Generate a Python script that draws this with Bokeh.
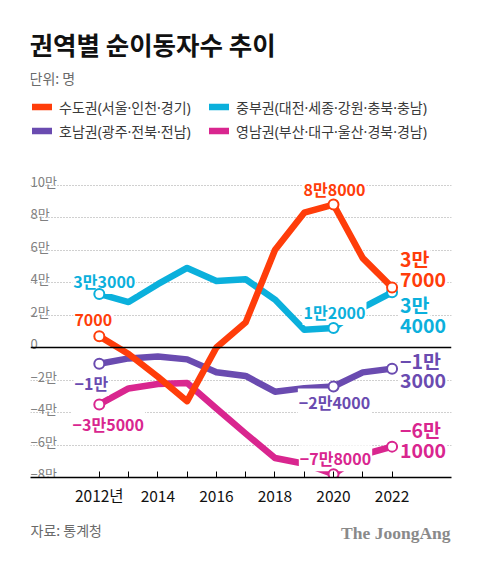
from bokeh.plotting import figure
from bokeh.layouts import column
from bokeh.models import Range1d, FixedTicker, Span, Label, Legend, LegendItem, ColumnDataSource
from bokeh.core.properties import value
from bokeh.embed import file_html
from bokeh.resources import INLINE

# ---------------- data (persons) ----------------
years = [2012, 2013, 2014, 2015, 2016, 2017, 2018, 2019, 2020, 2021, 2022]
sudo = [7000, -4000, -18000, -33000, 0, 15500, 60000, 83000, 88000, 55000, 37000]
jungbu = [33000, 28000, 39000, 49000, 41000, 42000, 29500, 11000, 12000, 24500, 34000]
honam = [-10000, -6700, -5500, -7300, -15200, -17500, -27200, -25000, -24000, -15300, -13000]
yeongnam = [-35000, -25200, -22500, -21800, -37500, -53000, -68000, -71500, -78000, -66000, -61000]

series_names = ["수도권(서울·인천·경기)", "중부권(대전·세종·강원·충북·충남)",
                "호남권(광주·전북·전남)", "영남권(부산·대구·울산·경북·경남)"]

y_ticks = [100000, 80000, 60000, 40000, 20000, 0, -20000, -40000, -60000, -80000]
y_tick_labels = ["10만", "8만", "6만", "4만", "2만", "0", "−2만", "−4만", "−6만", "−8만"]
x_tick_labels = ["2012년", "", "2014", "", "2016", "", "2018", "", "2020", "", "2022"]

marked_idx = [0, 8, 10]
sudo_labels = ["7000", "8만8000", ("3만", "7000")]
jungbu_labels = ["3만3000", "1만2000", ("3만", "4000")]
honam_labels = ["−1만", "−2만4000", ("−1만", "3000")]
yeongnam_labels = ["−3만5000", "−7만8000", ("−6만", "1000")]

title_text = "권역별 순이동자수 추이"
unit_text = "단위: 명"
source_text = "자료: 통계청"
logo_text = "The JoongAng"

# ---------------- style ----------------
C_SUDO = "#ff3d0a"
C_JUNG = "#0bb0dc"
C_HONAM = "#6a4bb0"
C_YEONG = "#d9268f"
KFONT = "Noto Sans CJK KR"
MIXFONT = "Noto Sans, Noto Sans CJK KR"

# main chart: frame spans from the canvas top down to the x axis
p = figure(width=480, height=508, output_backend="svg", toolbar_location=None,
           x_range=Range1d(2009.65, 2024.03), y_range=Range1d(-80000, 213600),
           y_axis_location=None, title=None,
           min_border_left=30, min_border_right=29, min_border_top=0, min_border_bottom=30)
p.outline_line_color = None
p.background_fill_color = "white"
p.border_fill_color = "white"

p.xgrid.visible = False
p.ygrid.ticker = FixedTicker(ticks=[t for t in y_ticks if t not in (0, -80000)])
p.ygrid.grid_line_color = "#a0a0a0"
p.ygrid.grid_line_dash = "1 2"
p.ygrid.grid_line_width = 1

p.xaxis.ticker = FixedTicker(ticks=years)
p.xaxis.major_label_overrides = {y: l for y, l in zip(years, x_tick_labels)}
p.xaxis.axis_line_color = "black"
p.xaxis.axis_line_width = 1.5
p.xaxis.major_tick_in = 6
p.xaxis.major_tick_out = 0
p.xaxis.major_tick_line_color = "black"
p.xaxis.major_tick_line_width = 1
p.xaxis.minor_tick_line_color = None
p.xaxis.major_label_standoff = 6
p.xaxis.major_label_text_font = KFONT
p.xaxis.major_label_text_font_size = "15.5px"
p.xaxis.major_label_text_color = "#111111"

p.add_layout(Span(location=0, dimension="width", line_color="black", line_width=1.5))

# y tick labels, drawn above their gridlines at the left edge
p.text(x=[p.x_range.start] * len(y_ticks), y=y_ticks, text=y_tick_labels,
       text_font=value(KFONT), text_font_size="13px", text_color="#808080",
       text_align="left", text_baseline="alphabetic", y_offset=-4)

# lines
series = [(jungbu, C_JUNG, jungbu_labels), (honam, C_HONAM, honam_labels),
          (yeongnam, C_YEONG, yeongnam_labels), (sudo, C_SUDO, sudo_labels)]
renderers = {}
for vals, col, _ in series:
    r = p.line(years, vals, line_color=col, line_width=6.5, line_join="round", line_cap="round")
    renderers[col] = r

# value labels: (dx, dy) pixel offsets from the marked point
offsets = {
    C_SUDO: [(-6, -16), (1, -16), ((7, -29), (7, -8))],
    C_JUNG: [(5, -13), (1, -16), ((7, 12), (7, 33))],
    C_HONAM: [(-8, 19), (1, 15), ((7, -8), (7, 12))],
    C_YEONG: [(9, 20), (2, -16), ((7, -17), (7, 4))],
}
lx, ly, lt, lc, ldx, ldy, lal, lsz = [], [], [], [], [], [], [], []
for vals, col, labs in series:
    for k, i in enumerate(marked_idx):
        lab = labs[k]
        if isinstance(lab, tuple):
            parts = list(zip(lab, offsets[col][k]))
            al, sz = "left", "19.5px"
        else:
            parts = [(lab, offsets[col][k])]
            al, sz = "center", "16px"
        for txt, (dx, dy) in parts:
            lx.append(years[i]); ly.append(vals[i]); lt.append(txt); lc.append(col)
            ldx.append(dx); ldy.append(dy); lal.append(al); lsz.append(sz)
lsrc = ColumnDataSource(dict(x=lx, y=ly, text=lt, color=lc, dx=ldx, dy=ldy, align=lal, size=lsz))
p.text(x="x", y="y", text="text", source=lsrc, x_offset="dx", y_offset="dy",
       text_color="color", text_align="align", text_baseline="middle",
       text_font=value(KFONT), text_font_style="bold", text_font_size="size",
       background_fill_color="white", padding=1)

# markers
for vals, col, _ in series:
    p.scatter([years[i] for i in marked_idx], [vals[i] for i in marked_idx], size=10,
              fill_color="white", line_color=col, line_width=2)

# legends (two columns), located from the frame's bottom-left corner
leg_common = dict(padding=0, margin=0, spacing=3, glyph_width=20, glyph_height=21,
                  label_height=21, label_standoff=7, border_line_color=None,
                  background_fill_alpha=0, label_text_font=MIXFONT,
                  label_text_font_size="14px", label_text_color="#3a3a3a")
leg1 = Legend(items=[LegendItem(label=value(series_names[0]), renderers=[renderers[C_SUDO]]),
                     LegendItem(label=value(series_names[2]), renderers=[renderers[C_HONAM]])],
              location=(2, 336), **leg_common)
leg2 = Legend(items=[LegendItem(label=value(series_names[1]), renderers=[renderers[C_JUNG]]),
                     LegendItem(label=value(series_names[3]), renderers=[renderers[C_YEONG]])],
              location=(179, 336), **leg_common)
p.add_layout(leg1)
p.add_layout(leg2)

# header texts (screen units from frame bottom-left; frame bottom is at y=478)
p.add_layout(Label(x=-1, y=478 - 44, x_units="screen", y_units="screen", text=title_text,
                   text_font=KFONT, text_font_style="bold", text_font_size="25.5px",
                   text_color="#111111", text_baseline="middle"))
p.add_layout(Label(x=-1, y=478 - 78.5, x_units="screen", y_units="screen", text=unit_text,
                   text_font=KFONT, text_font_size="14px", text_color="#6a6a6a",
                   text_baseline="middle"))

# footer strip (same horizontal frame as the chart)
f = figure(width=480, height=53, output_backend="svg", toolbar_location=None,
           x_range=Range1d(0, 421), y_range=Range1d(0, 53), title=None,
           x_axis_location=None, y_axis_location=None,
           min_border_left=30, min_border_right=29, min_border_top=0, min_border_bottom=0)
f.outline_line_color = None
f.background_fill_color = "white"
f.border_fill_color = "white"
f.xgrid.visible = False
f.ygrid.visible = False
f.add_layout(Label(x=0, y=561 - 529, x_units="screen", y_units="screen", text=source_text,
                   text_font=KFONT, text_font_size="14px", text_color="#6a6a6a",
                   text_baseline="middle"))
f.add_layout(Label(x=420, y=561 - 532, x_units="screen", y_units="screen", text=logo_text,
                   text_font="Liberation Serif", text_font_style="bold", text_font_size="17.5px",
                   text_color="#8a8a8a", text_baseline="middle", text_align="right"))

layout = column(p, f, spacing=0)
open("out.html", "w").write(file_html(layout, INLINE))
